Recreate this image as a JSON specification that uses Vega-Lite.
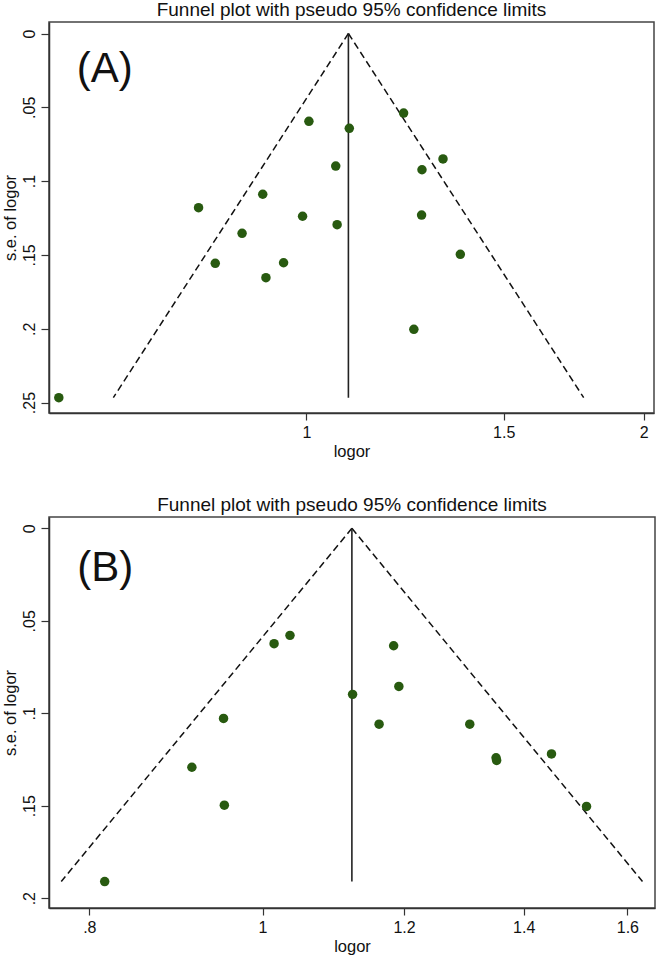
{
  "$schema": "https://vega.github.io/schema/vega-lite/v6.json",
  "padding": {"left": 1, "top": 0, "right": 2, "bottom": 0},
  "config": {
    "font": "Liberation Sans",
    "view": {"stroke": "#444", "strokeWidth": 1.5},
    "axis": {"domainColor": "#333", "domainWidth": 1.5, "tickColor": "#333", "tickWidth": 1.2, "tickSize": 7, "grid": false, "labelFont": "Liberation Sans", "labelFontSize": 16, "labelColor": "#111", "titleFont": "Liberation Sans", "titleFontSize": 16.5, "titleFontWeight": "normal", "titleColor": "#111", "labelPadding": 4},
    "title": {"font": "Liberation Sans", "fontSize": 19, "fontWeight": "normal", "color": "#111", "offset": 2},
    "concat": {"spacing": 34}
  },
  "datasets": {
    "pointsA": [
      {"logor": 1.005, "se": 0.0595},
      {"logor": 1.092, "se": 0.0642},
      {"logor": 1.221, "se": 0.0539},
      {"logor": 1.062, "se": 0.0898},
      {"logor": 1.324, "se": 0.0850},
      {"logor": 1.268, "se": 0.0923},
      {"logor": 0.914, "se": 0.1089},
      {"logor": 0.801, "se": 0.1180},
      {"logor": 0.992, "se": 0.1238},
      {"logor": 1.267, "se": 0.1230},
      {"logor": 1.065, "se": 0.1295},
      {"logor": 0.876, "se": 0.1354},
      {"logor": 0.829, "se": 0.1557},
      {"logor": 0.954, "se": 0.1553},
      {"logor": 0.920, "se": 0.1654},
      {"logor": 1.372, "se": 0.1496},
      {"logor": 1.247, "se": 0.2004},
      {"logor": 0.601, "se": 0.2467}
    ],
    "funnelA": [
      {"logor": 0.6723, "se": 0.2467, "side": "left"},
      {"logor": 1.090, "se": 0, "side": "left"},
      {"logor": 1.090, "se": 0, "side": "right"},
      {"logor": 1.768, "se": 0.2467, "side": "right"}
    ],
    "centerA": [
      {"logor": 1.090, "se": 0},
      {"logor": 1.090, "se": 0.2467}
    ],
    "labelA": [{"logor": 0.6235, "se": 0.0331, "label": "(A)"}],
    "pointsB": [
      {"logor": 1.015, "se": 0.0624},
      {"logor": 1.036, "se": 0.0579},
      {"logor": 1.184, "se": 0.0635},
      {"logor": 1.192, "se": 0.0855},
      {"logor": 1.123, "se": 0.0898},
      {"logor": 0.951, "se": 0.1028},
      {"logor": 1.162, "se": 0.1059},
      {"logor": 1.306, "se": 0.1059},
      {"logor": 0.913, "se": 0.1292},
      {"logor": 1.351, "se": 0.1241},
      {"logor": 1.352, "se": 0.1255},
      {"logor": 1.451, "se": 0.1220},
      {"logor": 0.952, "se": 0.1497},
      {"logor": 1.518, "se": 0.1504},
      {"logor": 0.816, "se": 0.1910}
    ],
    "funnelB": [
      {"logor": 0.7716, "se": 0.1910, "side": "left"},
      {"logor": 1.122, "se": 0, "side": "left"},
      {"logor": 1.122, "se": 0, "side": "right"},
      {"logor": 1.6315, "se": 0.1910, "side": "right"}
    ],
    "centerB": [
      {"logor": 1.122, "se": 0},
      {"logor": 1.122, "se": 0.1910}
    ],
    "labelB": [{"logor": 0.7877, "se": 0.0285, "label": "(B)"}]
  },
  "vconcat": [
    {
      "title": "Funnel plot with pseudo 95% confidence limits",
      "width": 605,
      "height": 391,
      "encoding": {
        "x": {"field": "logor", "type": "quantitative", "scale": {"type": "log", "domain": [0.589, 2.043], "nice": false}, "axis": {"title": "logor", "values": [1, 1.5, 2], "format": ".2~f", "labelExpr": "replace(datum.label, '0.', '.')", "titlePadding": 3}},
        "y": {"field": "se", "type": "quantitative", "scale": {"domain": [-0.0078, 0.2571], "reverse": true, "nice": false, "zero": false}, "axis": {"title": "s.e. of logor", "values": [0, 0.05, 0.1, 0.15, 0.2, 0.25], "format": ".2~f", "labelExpr": "replace(datum.label, '0.', '.')", "labelAngle": -90, "tickSize": 8, "titlePadding": 3}}
      },
      "layer": [
        {"data": {"name": "funnelA"}, "mark": {"type": "line", "color": "#111", "strokeWidth": 1.5, "strokeDash": [7, 4]}, "encoding": {"detail": {"field": "side"}, "order": {"field": "se"}}},
        {"data": {"name": "centerA"}, "mark": {"type": "line", "color": "#222", "strokeWidth": 1.6}, "encoding": {"order": {"field": "se"}}},
        {"data": {"name": "pointsA"}, "mark": {"type": "point", "filled": true, "color": "#285a10", "opacity": 1, "size": 90}},
        {"data": {"name": "labelA"}, "mark": {"type": "text", "align": "left", "baseline": "alphabetic", "fontSize": 42, "color": "#111"}, "encoding": {"text": {"field": "label"}}}
      ]
    },
    {
      "title": "Funnel plot with pseudo 95% confidence limits",
      "width": 606,
      "height": 391,
      "encoding": {
        "x": {"field": "logor", "type": "quantitative", "scale": {"type": "log", "domain": [0.7595, 1.658], "nice": false}, "axis": {"title": "logor", "values": [0.8, 1, 1.2, 1.4, 1.6], "format": ".2~f", "labelExpr": "replace(datum.label, '0.', '.')", "titlePadding": 3}},
        "y": {"field": "se", "type": "quantitative", "scale": {"domain": [-0.0061, 0.2053], "reverse": true, "nice": false, "zero": false}, "axis": {"title": "s.e. of logor", "values": [0, 0.05, 0.1, 0.15, 0.2], "format": ".2~f", "labelExpr": "replace(datum.label, '0.', '.')", "labelAngle": -90, "tickSize": 8, "titlePadding": 3}}
      },
      "layer": [
        {"data": {"name": "funnelB"}, "mark": {"type": "line", "color": "#111", "strokeWidth": 1.5, "strokeDash": [7, 4]}, "encoding": {"detail": {"field": "side"}, "order": {"field": "se"}}},
        {"data": {"name": "centerB"}, "mark": {"type": "line", "color": "#222", "strokeWidth": 1.6}, "encoding": {"order": {"field": "se"}}},
        {"data": {"name": "pointsB"}, "mark": {"type": "point", "filled": true, "color": "#285a10", "opacity": 1, "size": 90}},
        {"data": {"name": "labelB"}, "mark": {"type": "text", "align": "left", "baseline": "alphabetic", "fontSize": 42, "color": "#111"}, "encoding": {"text": {"field": "label"}}}
      ]
    }
  ]
}
